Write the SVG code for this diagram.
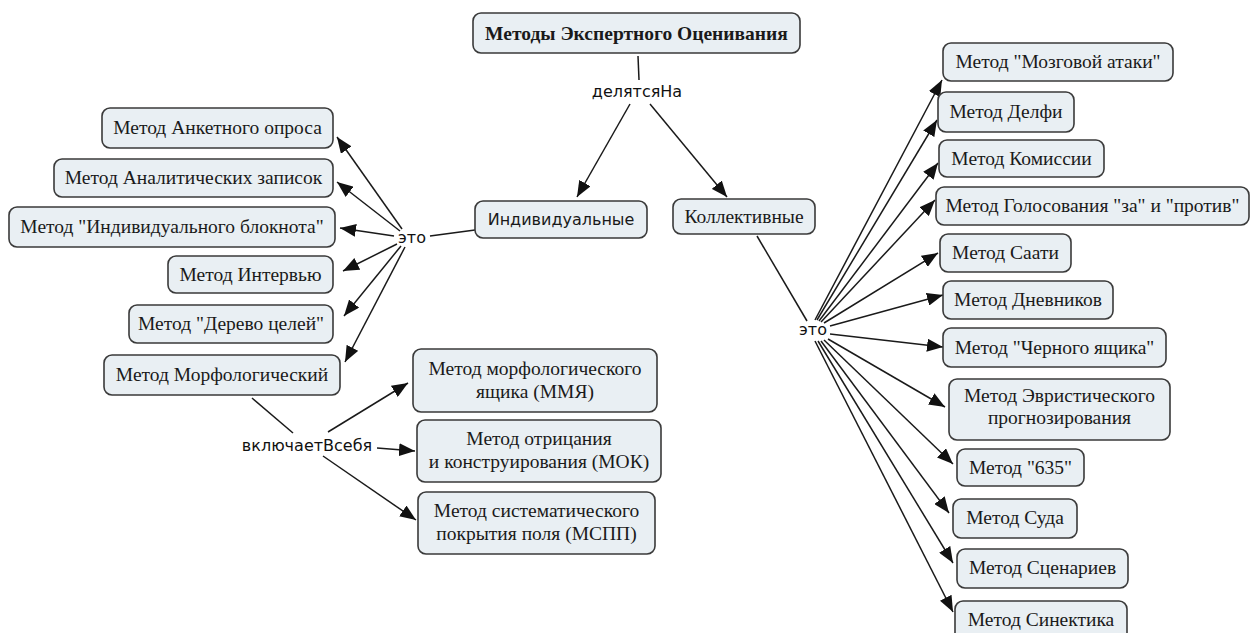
<svg xmlns="http://www.w3.org/2000/svg" width="1251" height="633" viewBox="0 0 1251 633">
<style>
.n rect{fill:#e9eff3;stroke:#3a3a3a;stroke-width:1.6}
.n text{font-family:"Liberation Serif","Times New Roman",serif;font-size:19.5px;fill:#1a1a1a;text-anchor:middle}
.n text.b{font-weight:bold;font-size:19.5px}
.n text.s{font-family:"DejaVu Sans",Verdana,sans-serif;font-size:16px}
.lab{font-family:"DejaVu Sans",Verdana,sans-serif;font-size:16px;fill:#111;text-anchor:middle}
#connectors line{stroke:#1a1a1a;stroke-width:1.5}
#connectors line.a{marker-end:url(#ah)}
</style>
<defs>
<marker id="ah" markerUnits="userSpaceOnUse" markerWidth="17" markerHeight="13" refX="16" refY="6.5" orient="auto"><path d="M0,0 L16,6.5 L0,13 Z" fill="#111"/></marker>
</defs>
<rect width="1251" height="633" fill="#fff"/>
<g id="connectors">
<line x1="638" y1="56" x2="639" y2="80"/>
<line class="a" x1="630" y1="104" x2="577" y2="197"/>
<line class="a" x1="650" y1="104" x2="727" y2="197"/>
<line x1="430" y1="236" x2="475" y2="230"/>
<line class="a" x1="402" y1="229" x2="337" y2="137"/>
<line class="a" x1="400" y1="231" x2="337" y2="182"/>
<line class="a" x1="394" y1="236" x2="340" y2="228"/>
<line class="a" x1="397" y1="244" x2="343" y2="271"/>
<line class="a" x1="401" y1="246" x2="344" y2="316"/>
<line class="a" x1="405" y1="247" x2="345" y2="362"/>
<line x1="252" y1="398" x2="293" y2="433"/>
<line class="a" x1="328" y1="432" x2="408" y2="383"/>
<line class="a" x1="377" y1="448" x2="415" y2="451"/>
<line class="a" x1="323" y1="456" x2="416" y2="520"/>
<line x1="757" y1="236" x2="807" y2="321"/>
<line class="a" x1="815" y1="320" x2="942" y2="80"/>
<line class="a" x1="817" y1="320" x2="937" y2="120"/>
<line class="a" x1="819" y1="321" x2="938" y2="163"/>
<line class="a" x1="821" y1="322" x2="935" y2="200"/>
<line class="a" x1="824" y1="323" x2="938" y2="253"/>
<line class="a" x1="830" y1="326" x2="943" y2="295"/>
<line class="a" x1="830" y1="334" x2="943" y2="347"/>
<line class="a" x1="828" y1="339" x2="945" y2="407"/>
<line class="a" x1="824" y1="340" x2="953" y2="464"/>
<line class="a" x1="821" y1="341" x2="949" y2="513"/>
<line class="a" x1="818" y1="341" x2="953" y2="563"/>
<line class="a" x1="815" y1="341" x2="953" y2="612"/>
</g>
<g id="labels">
<text class="lab" x="637" y="97">делятсяНа</text>
<text class="lab" x="412" y="243">это</text>
<text class="lab" x="813" y="335">это</text>
<text class="lab" x="307" y="451">включаетВсебя</text>
</g>
<g id="n-root" class="n"><rect x="473" y="13" width="327" height="40" rx="8"/><text class="b" x="636.5" y="40">Методы Экспертного Оценивания</text></g>
<g id="n-ind" class="n"><rect x="475" y="201" width="172" height="37" rx="8"/><text class="s" x="561" y="225">Индивидуальные</text></g>
<g id="n-kol" class="n"><rect x="673" y="199" width="142" height="35" rx="8"/><text x="744" y="223">Коллективные</text></g>
<g id="n-ank" class="n"><rect x="102" y="108" width="231" height="40" rx="8"/><text x="217.5" y="134">Метод Анкетного опроса</text></g>
<g id="n-anal" class="n"><rect x="54" y="159" width="279" height="38" rx="8"/><text x="193.5" y="184">Метод Аналитических записок</text></g>
<g id="n-blok" class="n"><rect x="9" y="207" width="326" height="40" rx="8"/><text x="172" y="233">Метод "Индивидуального блокнота"</text></g>
<g id="n-int" class="n"><rect x="168" y="256" width="165" height="37" rx="8"/><text x="250.5" y="281">Метод Интервью</text></g>
<g id="n-der" class="n"><rect x="129" y="305" width="204" height="38" rx="8"/><text x="231" y="330">Метод "Дерево целей"</text></g>
<g id="n-morf" class="n"><rect x="104" y="355" width="236" height="40" rx="8"/><text x="222" y="381">Метод Морфологический</text></g>
<g id="n-mmya" class="n"><rect x="413" y="349" width="244" height="63" rx="8"/><text x="535" y="375">Метод морфологического</text><text x="535" y="398">ящика (ММЯ)</text></g>
<g id="n-mok" class="n"><rect x="417" y="420" width="244" height="62" rx="8"/><text x="539" y="445">Метод отрицания</text><text x="539" y="468">и конструирования (МОК)</text></g>
<g id="n-mspp" class="n"><rect x="418" y="492" width="237" height="62" rx="8"/><text x="536.5" y="517">Метод систематического</text><text x="536.5" y="540">покрытия поля (МСПП)</text></g>
<g id="n-moz" class="n"><rect x="943" y="43" width="230" height="38" rx="8"/><text x="1058" y="68">Метод "Мозговой атаки"</text></g>
<g id="n-delf" class="n"><rect x="938" y="92" width="136" height="40" rx="8"/><text x="1006" y="118">Метод Делфи</text></g>
<g id="n-kom" class="n"><rect x="939" y="140" width="165" height="37" rx="8"/><text x="1021.5" y="165">Метод Комиссии</text></g>
<g id="n-gol" class="n"><rect x="936" y="187" width="313" height="38" rx="8"/><text x="1092.5" y="212">Метод Голосования "за" и "против"</text></g>
<g id="n-saat" class="n"><rect x="940" y="234" width="131" height="38" rx="8"/><text x="1005.5" y="259">Метод Саати</text></g>
<g id="n-dnev" class="n"><rect x="943" y="281" width="170" height="38" rx="8"/><text x="1028" y="306">Метод Дневников</text></g>
<g id="n-cher" class="n"><rect x="943" y="328" width="223" height="39" rx="8"/><text x="1054.5" y="354">Метод "Черного ящика"</text></g>
<g id="n-evr" class="n"><rect x="949" y="379" width="221" height="61" rx="8"/><text x="1059.5" y="402">Метод Эвристического</text><text x="1059.5" y="424">прогнозирования</text></g>
<g id="n-635" class="n"><rect x="957" y="449" width="127" height="37" rx="8"/><text x="1020.5" y="474">Метод "635"</text></g>
<g id="n-sud" class="n"><rect x="953" y="499" width="124" height="39" rx="8"/><text x="1015" y="524">Метод Суда</text></g>
<g id="n-scen" class="n"><rect x="957" y="549" width="171" height="39" rx="8"/><text x="1042.5" y="574">Метод Сценариев</text></g>
<g id="n-sin" class="n"><rect x="955" y="601" width="172" height="42" rx="8"/><text x="1041" y="626">Метод Синектика</text></g>
</svg>
